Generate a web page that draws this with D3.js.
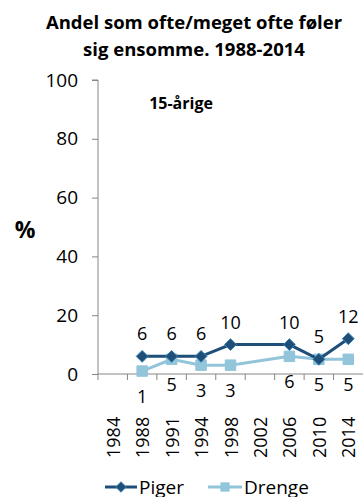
<!DOCTYPE html>
<html lang="da">
<head>
<meta charset="UTF-8">
<title>Andel som ofte/meget ofte føler sig ensomme</title>
<script src="https://cdn.jsdelivr.net/npm/d3@7/dist/d3.min.js"></script>
<style>
  * { margin: 0; padding: 0; }
  body { background: #fff; }
  text { font-family: "Open Sans", "Noto Sans", sans-serif; fill: #000; }
</style>
</head>
<body>
<script>
  const width = 363
  const height = 497

  // data
  const years = ['1984', '1988', '1991', '1994', '1998', '2002', '2006', '2010', '2014']
  const piger = [null, 6, 6, 6, 10, null, 10, 5, 12]
  const drenge = [null, 1, 5, 3, 3, null, 6, 5, 5]
  const yTicks = [0, 20, 40, 60, 80, 100]

  const padding = { left: 98, right: 0, top: 80, bottom: 123 }
  const darkBlue = '#1f4e79'
  const lightBlue = '#92c5da'

  const svg = d3.select('body')
    .append('svg')
    .attr('width', width)
    .attr('height', height)

  const xScale = d3.scaleBand()
    .domain(years)
    .range([padding.left, width - padding.right])
  const yScale = d3.scaleLinear()
    .domain([0, 100])
    .range([height - padding.bottom, padding.top])

  // title
  svg.append('text')
    .attr('x', 194).attr('y', 29)
    .attr('text-anchor', 'middle')
    .style('font-size', '18.5px').style('font-weight', 'bold')
    .text('Andel som ofte/meget ofte føler')
  svg.append('text')
    .attr('x', 194).attr('y', 56)
    .attr('text-anchor', 'middle')
    .style('font-size', '18.5px').style('font-weight', 'bold')
    .text('sig ensomme. 1988-2014')

  svg.append('text')
    .attr('x', 181).attr('y', 109)
    .attr('text-anchor', 'middle')
    .style('font-size', '16px').style('font-weight', 'bold')
    .text('15-årige')

  svg.append('text')
    .attr('x', 25).attr('y', 238)
    .attr('text-anchor', 'middle')
    .style('font-size', '23px').style('font-weight', 'bold')
    .text('%')

  // y axis
  const yAxis = d3.axisLeft(yScale)
    .tickValues(yTicks)
    .tickSize(6)
    .tickPadding(14)
  const gy = svg.append('g')
    .attr('transform', 'translate(' + padding.left + ',0)')
    .call(yAxis)
  gy.select('.domain').attr('stroke', '#868686').attr('d', 'M-6,' + yScale(100) + 'H0V' + yScale(0))
  gy.selectAll('.tick line').attr('stroke', '#868686')
  gy.selectAll('.tick text').style('font-size', '19px').attr('fill', '#000')
    .style('font-family', '"Open Sans", sans-serif')

  // x axis: ticks at band boundaries
  const gx = svg.append('g')
    .attr('transform', 'translate(0,' + yScale(0) + ')')
  gx.append('line')
    .attr('x1', padding.left).attr('x2', width)
    .attr('stroke', '#868686')
  gx.selectAll('.xtick')
    .data(years)
    .enter()
    .append('line')
    .attr('class', 'xtick')
    .attr('x1', d => xScale(d)).attr('x2', d => xScale(d))
    .attr('y1', 0).attr('y2', 6)
    .attr('stroke', '#868686')
  gx.selectAll('.xlabel')
    .data(years)
    .enter()
    .append('text')
    .attr('class', 'xlabel')
    .attr('transform', d => 'translate(' + (xScale(d) + xScale.bandwidth() / 2 + 7) + ',84) rotate(-90)')
    .attr('text-anchor', 'start')
    .style('font-size', '18px')
    .text(d => d)

  const cx = d => xScale(d) + xScale.bandwidth() / 2

  function drawSeries(values, color, shape, labelDy) {
    const pts = years.map((y, i) => ({ year: y, v: values[i] })).filter(d => d.v !== null)
    const line = d3.line()
      .x(d => cx(d.year))
      .y(d => yScale(d.v))
    svg.append('path')
      .datum(pts)
      .attr('d', line)
      .attr('fill', 'none')
      .attr('stroke', color)
      .attr('stroke-width', 3)
    svg.selectAll('.m' + shape)
      .data(pts)
      .enter()
      .append('path')
      .attr('class', 'm' + shape)
      .attr('transform', d => 'translate(' + cx(d.year) + ',' + yScale(d.v) + ')')
      .attr('d', d3.symbol().type(shape === 'diamond' ? d3.symbolDiamond2 : d3.symbolSquare2).size(shape === 'diamond' ? 90 : 140))
      .attr('fill', color)
      .attr('stroke', shape === 'diamond' ? '#3a86b4' : color)
      .attr('stroke-width', 1)
    svg.selectAll('.l' + shape)
      .data(pts)
      .enter()
      .append('text')
      .attr('class', 'l' + shape)
      .attr('x', d => cx(d.year))
      .attr('y', d => yScale(d.v) + labelDy)
      .attr('text-anchor', 'middle')
      .style('font-size', '18px')
      .text(d => d.v)
  }

  drawSeries(drenge, lightBlue, 'square', 32)
  drawSeries(piger, darkBlue, 'diamond', -16)

  // legend
  const legend = svg.append('g').attr('transform', 'translate(0,487)')
  legend.append('line').attr('x1', 105).attr('x2', 137).attr('stroke', darkBlue).attr('stroke-width', 3)
  legend.append('path').attr('transform', 'translate(121,0)')
    .attr('d', d3.symbol().type(d3.symbolDiamond2).size(70))
    .attr('fill', darkBlue).attr('stroke', '#3a86b4')
  legend.append('text').attr('x', 139).attr('y', 7).style('font-size', '19px').text('Piger')
  legend.append('line').attr('x1', 208).attr('x2', 242).attr('stroke', lightBlue).attr('stroke-width', 3)
  legend.append('path').attr('transform', 'translate(225,0)')
    .attr('d', d3.symbol().type(d3.symbolSquare2).size(110))
    .attr('fill', lightBlue)
  legend.append('text').attr('x', 244).attr('y', 7).style('font-size', '19px').text('Drenge')
</script>
</body>
</html>
